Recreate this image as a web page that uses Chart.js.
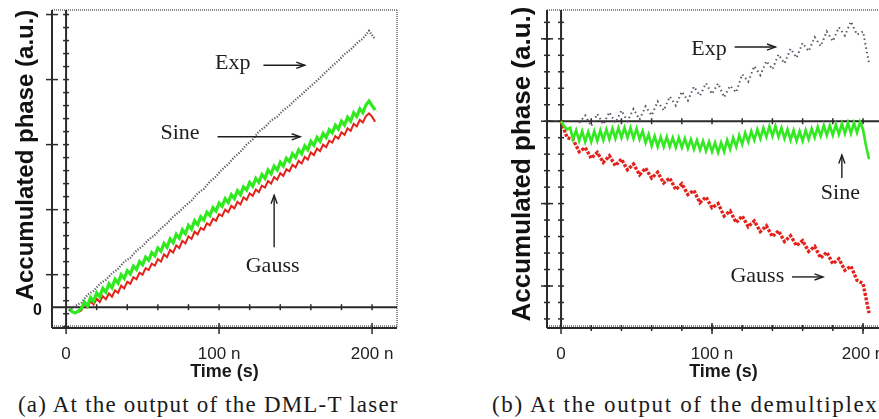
<!DOCTYPE html>
<html>
<head>
<meta charset="utf-8">
<script src="https://cdn.jsdelivr.net/npm/chart.js@4.4.1/dist/chart.umd.min.js"></script>
<style>
  html, body { margin: 0; padding: 0; background: #fff; }
  body { width: 879px; height: 419px; overflow: hidden; position: relative; }
  canvas { position: absolute; top: 0; }
  #chartA { left: 0; }
  #chartB { left: 480px; }
  .caption {
    position: absolute; top: 393px;
    font-family: "Liberation Serif", serif; font-size: 23px; line-height: 23px;
    letter-spacing: 1.2px; color: #1a1a1a; white-space: nowrap;
  }
</style>
</head>
<body>
<canvas id="chartA" width="420" height="392"></canvas>
<canvas id="chartB" width="420" height="392"></canvas>
<div class="caption" style="left:18px">(a) At the output of the DML-T laser</div>
<div class="caption" style="left:492px; letter-spacing:1.65px">(b) At the output of the demultiplex</div>

<script>
// (a) accumulated phase at the laser output, time in ns
var timeA = [2,6,10,14,18,22,26,30,34,38,42,46,50,54,58,62,66,70,74,78,82,86,90,94,98,
             102,106,110,114,118,122,126,130,134,138,142,146,150,154,158,162,166,170,174,178,182,186,190,194,198,202];
var expA = [-0.05,0.02,0.07,0.19,0.25,0.36,0.42,0.52,0.59,0.70,0.76,0.87,0.94,1.04,1.11,1.21,1.29,1.39,1.47,1.56,1.64,1.75,1.82,1.93,2.01,
            2.12,2.20,2.31,2.39,2.50,2.58,2.70,2.77,2.87,2.93,3.03,3.10,3.19,3.27,3.36,3.44,3.53,3.62,3.71,3.79,3.89,3.96,4.06,4.13,4.25,4.12];
// sine and gauss traces every 2 ns, 2..202
var timeA2 = [2,4,6,8,10,12,14,16,18,20,22,24,26,28,30,32,34,36,38,40,42,44,46,48,50,
              52,54,56,58,60,62,64,66,68,70,72,74,76,78,80,82,84,86,88,90,92,94,96,98,100,
              102,104,106,108,110,112,114,116,118,120,122,124,126,128,130,132,134,136,138,140,142,144,146,148,150,
              152,154,156,158,160,162,164,166,168,170,172,174,176,178,180,182,184,186,188,190,192,194,196,198,200,202];
var sineA = [-0.03,-0.07,-0.09,-0.06,-0.02,0.08,0.02,0.15,0.09,0.22,0.16,0.29,0.23,0.36,0.30,0.43,0.37,0.50,0.44,0.56,0.51,0.63,0.58,0.70,0.65,
             0.77,0.72,0.84,0.79,0.91,0.86,0.98,0.92,1.05,0.99,1.12,1.06,1.19,1.13,1.26,1.20,1.33,1.27,1.39,1.34,1.46,1.41,1.53,1.48,1.60,
             1.55,1.67,1.61,1.73,1.67,1.79,1.73,1.85,1.80,1.92,1.86,1.98,1.92,2.04,1.98,2.11,2.05,2.17,2.11,2.23,2.17,2.29,2.24,2.36,2.30,
             2.42,2.36,2.48,2.42,2.55,2.49,2.61,2.55,2.67,2.61,2.73,2.68,2.80,2.74,2.86,2.80,2.92,2.86,2.99,2.93,3.05,2.99,3.11,3.17,3.10,3.03];
var gaussA = [-0.03,-0.07,-0.08,-0.07,-0.05,0.05,0.00,0.09,0.04,0.13,0.08,0.17,0.12,0.21,0.16,0.26,0.22,0.33,0.29,0.39,0.36,0.46,0.43,0.53,0.50,
              0.60,0.57,0.67,0.64,0.74,0.70,0.81,0.77,0.88,0.84,0.95,0.91,1.02,0.98,1.09,1.05,1.16,1.12,1.22,1.19,1.29,1.26,1.36,1.33,1.43,
              1.40,1.50,1.46,1.56,1.52,1.62,1.58,1.69,1.65,1.75,1.71,1.81,1.77,1.87,1.84,1.94,1.90,2.00,1.96,2.06,2.02,2.12,2.09,2.19,2.15,
              2.25,2.21,2.31,2.27,2.38,2.34,2.44,2.40,2.50,2.46,2.56,2.53,2.63,2.59,2.69,2.65,2.75,2.71,2.82,2.78,2.88,2.84,2.94,2.98,2.93,2.85];

// (b) accumulated phase after the demultiplexer
var timeB = [0,4,8,12,16,20,24,28,32,36,40,44,48,52,56,60,64,68,72,76,80,84,88,92,96,100,
             104,108,112,116,120,124,128,132,136,140,144,148,152,156,160,164,168,172,176,180,184,188,192,196,200,204];
var expB = [null,null,null,-0.02,0.07,-0.06,0.09,-0.04,0.11,-0.02,0.13,0.00,0.15,0.02,0.18,0.07,0.24,0.13,0.30,0.19,0.36,0.25,0.42,0.31,0.46,0.33,
            0.46,0.29,0.43,0.35,0.57,0.48,0.67,0.56,0.73,0.63,0.81,0.70,0.88,0.77,0.95,0.85,1.02,0.91,1.09,0.97,1.14,1.04,1.21,1.05,1.09,0.70];
var gaussB = [0.00,-0.20,-0.22,-0.37,-0.32,-0.45,-0.38,-0.50,-0.42,-0.54,-0.46,-0.59,-0.52,-0.65,-0.57,-0.69,-0.62,-0.75,-0.69,-0.83,-0.76,-0.89,-0.84,-0.99,-0.92,-1.05,
              -1.00,-1.15,-1.09,-1.23,-1.15,-1.28,-1.21,-1.34,-1.27,-1.40,-1.33,-1.46,-1.39,-1.51,-1.45,-1.58,-1.52,-1.66,-1.59,-1.73,-1.67,-1.81,-1.76,-1.93,-1.97,-2.33];
// the sine trace is sampled twice as often, 0..204 ns every 2 ns
var timeSineB = [0,2,4,6,8,10,12,14,16,18,20,22,24,26,28,30,32,34,36,38,40,42,44,46,48,50,52,54,56,58,
                 60,62,64,66,68,70,72,74,76,78,80,82,84,86,88,90,92,94,96,98,100,102,104,106,108,110,112,114,116,118,
                 120,122,124,126,128,130,132,134,136,138,140,142,144,146,148,150,152,154,156,158,160,162,164,166,168,170,172,174,176,178,
                 180,182,184,186,188,190,192,194,196,198,200,202,204];
var sineB = [0.00,-0.06,-0.10,-0.08,-0.22,-0.11,-0.24,-0.12,-0.25,-0.13,
             -0.25,-0.12,-0.24,-0.11,-0.23,-0.10,-0.22,-0.09,-0.21,-0.08,
             -0.20,-0.08,-0.20,-0.08,-0.21,-0.09,-0.22,-0.12,-0.26,-0.16,
             -0.30,-0.18,-0.31,-0.19,-0.31,-0.19,-0.31,-0.20,-0.32,-0.20,
             -0.32,-0.21,-0.33,-0.22,-0.34,-0.23,-0.35,-0.24,-0.36,-0.25,
             -0.37,-0.26,-0.38,-0.26,-0.37,-0.23,-0.34,-0.20,-0.31,-0.17,
             -0.28,-0.14,-0.25,-0.12,-0.23,-0.10,-0.21,-0.08,-0.19,-0.06,
             -0.18,-0.06,-0.19,-0.08,-0.21,-0.10,-0.23,-0.11,-0.24,-0.12,
             -0.24,-0.11,-0.22,-0.09,-0.20,-0.07,-0.18,-0.05,-0.17,-0.05,
             -0.17,-0.04,-0.16,-0.03,-0.15,-0.02,-0.15,-0.02,-0.14,-0.01,
             -0.10,-0.30,-0.46];

var xTickValues = [0, 100, 200];
var xTickLabels = ['0', '100 n', '200 n'];
var yMajorA = [0.5, 1.5, 2.5, 3.5, 4.5];
var yMajorB = [1, 0, -1, -2];
var yTitle = 'Accumulated phase (a.u.)';

// curve names and arrows, in data units
var notesA = [
  {text: 'Exp', x: 109, y: 3.75, arrow: [129, 3.72, 156, 3.72]},
  {text: 'Sine', x: 74.5, y: 2.67, arrow: [99, 2.62, 153, 2.62]},
  {text: 'Gauss', x: 135, y: 0.63, arrow: [136, 0.92, 136, 1.72]}
];
var notesB = [
  {text: 'Exp', x: 98, y: 0.88, arrow: [115, 0.9, 142, 0.9]},
  {text: 'Sine', x: 185, y: -0.87, arrow: [186, -0.69, 186, -0.41]},
  {text: 'Gauss', x: 130, y: -1.88, arrow: [153, -1.89, 173.5, -1.89]}
];

function points(t, v) {
  var out = [];
  for (var i in t) {
    if (v[i] !== null) out.push({x: t[i], y: v[i]});
  }
  return out;
}

function seg(ctx, x1, y1, x2, y2) {
  ctx.beginPath();
  ctx.moveTo(x1, y1);
  ctx.lineTo(x2, y2);
  ctx.stroke();
}

// frame, inner axes and all the little tick marks
var axisDecor = {
  id: 'axisDecor',
  beforeDatasetsDraw: function(chart, args, o) {
    var ctx = chart.ctx, a = chart.chartArea;
    var xs = chart.scales.x, ys = chart.scales.y;
    var x0 = xs.getPixelForValue(0), y0 = ys.getPixelForValue(0);
    ctx.save();
    ctx.strokeStyle = '#8c8c8c';
    ctx.lineWidth = 2;
    ctx.setLineDash([1, 1]);
    seg(ctx, a.left, a.top, a.right, a.top);
    if (o.rightEdge) seg(ctx, a.right, a.top, a.right, a.bottom);
    seg(ctx, a.left, a.bottom - 2, a.right, a.bottom - 2);
    ctx.setLineDash([]);

    ctx.strokeStyle = '#2a2a2a';
    ctx.lineWidth = 2;
    seg(ctx, a.left, a.top, a.left, a.bottom);
    seg(ctx, a.left, a.bottom, a.right, a.bottom);
    seg(ctx, x0, a.top, x0, a.bottom);
    seg(ctx, a.left, y0, a.right, y0);

    ctx.lineWidth = 1.5;
    for (var k = 0; ; k++) {
      var v = o.yMinorFrom + k * 0.2;
      if (v > ys.max) break;
      var py = ys.getPixelForValue(v);
      seg(ctx, x0 - 3, py, x0 + 3, py);
      if (o.outerMinor) seg(ctx, a.left - 3, py, a.left + 3, py);
    }
    o.yMajor.forEach(function(v) {
      var py = ys.getPixelForValue(v);
      seg(ctx, a.left - 6, py, a.left + 6, py);
    });
    for (var t = 20; t <= 200; t += 20) {
      var px = xs.getPixelForValue(t);
      seg(ctx, px, y0 - 3, px, y0 + 3);
      if (o.outerMinor) seg(ctx, px, a.bottom - 3, px, a.bottom + 3);
    }
    xTickValues.forEach(function(v) {
      var px = xs.getPixelForValue(v);
      seg(ctx, px, a.bottom - 5, px, a.bottom + 6);
    });
    ctx.restore();
  },
  afterDraw: function(chart, args, o) {
    var ctx = chart.ctx, a = chart.chartArea;
    ctx.save();
    ctx.fillStyle = '#111';
    // the only labelled y value
    if (o.zeroLabel) {
      ctx.font = 'bold 16px "Liberation Sans", Arial, sans-serif';
      ctx.textAlign = 'right';
      ctx.textBaseline = 'middle';
      ctx.fillText('0', a.left - 10, chart.scales.y.getPixelForValue(0) + 3);
    }
    // rotated y title, centred a little above the middle of the plot
    ctx.translate(o.titleX, o.titleY);
    ctx.rotate(-Math.PI / 2);
    ctx.font = 'bold ' + o.titleSize + 'px "Liberation Sans", Arial, sans-serif';
    ctx.textAlign = 'center';
    ctx.textBaseline = 'middle';
    ctx.fillText(yTitle, 0, 0);
    ctx.restore();
  }
};

// serif names next to the curves, with arrows pointing at them
var curveNotes = {
  id: 'curveNotes',
  afterDatasetsDraw: function(chart, args, o) {
    var ctx = chart.ctx, xs = chart.scales.x, ys = chart.scales.y;
    ctx.save();
    ctx.fillStyle = '#1e1e1e';
    ctx.strokeStyle = '#1e1e1e';
    ctx.lineWidth = 1.4;
    ctx.font = '22px "Liberation Serif", serif';
    ctx.textAlign = 'center';
    ctx.textBaseline = 'middle';
    o.notes.forEach(function(n) {
      ctx.fillText(n.text, xs.getPixelForValue(n.x), ys.getPixelForValue(n.y));
      var x1 = xs.getPixelForValue(n.arrow[0]), y1 = ys.getPixelForValue(n.arrow[1]);
      var x2 = xs.getPixelForValue(n.arrow[2]), y2 = ys.getPixelForValue(n.arrow[3]);
      seg(ctx, x1, y1, x2, y2);
      var ang = Math.atan2(y2 - y1, x2 - x1);
      ctx.beginPath();
      ctx.moveTo(x2 - 9 * Math.cos(ang - 0.35), y2 - 9 * Math.sin(ang - 0.35));
      ctx.lineTo(x2, y2);
      ctx.lineTo(x2 - 9 * Math.cos(ang + 0.35), y2 - 9 * Math.sin(ang + 0.35));
      ctx.stroke();
    });
    ctx.restore();
  }
};

function makeChart(id, sets, cfg) {
  return new Chart(document.getElementById(id), {
    type: 'line',
    data: {
      datasets: [
        {label: 'Exp', data: points(sets.expTime, sets.exp), borderColor: '#5e5866', borderWidth: cfg.expWidth, borderDash: cfg.expDash},
        {label: 'Sine', data: points(sets.sineTime, sets.sine), borderColor: '#30ea1f', borderWidth: cfg.sineWidth},
        {label: 'Gauss', data: points(sets.gaussTime, sets.gauss), borderColor: '#e3231b', borderWidth: cfg.gaussWidth, borderDash: cfg.gaussDash}
      ]
    },
    options: {
      responsive: false,
      animation: false,
      parsing: false,
      layout: {padding: {left: 0, top: 10, right: cfg.padRight, bottom: 0}},
      elements: {point: {radius: 0}, line: {tension: 0}},
      plugins: {
        legend: {display: false},
        tooltip: {enabled: false},
        axisDecor: {rightEdge: cfg.rightEdge, outerMinor: cfg.outerMinor, yMinorFrom: cfg.yMinorFrom, yMajor: cfg.yMajor,
                    zeroLabel: cfg.zeroLabel, titleX: cfg.titleX, titleY: cfg.titleY, titleSize: cfg.titleSize},
        curveNotes: {notes: cfg.notes}
      },
      scales: {
        x: {
          type: 'linear', min: cfg.xMin, max: cfg.xMax,
          afterFit: function(s) { s.height = 64; },
          afterBuildTicks: function(s) { s.ticks = xTickValues.map(function(v) { return {value: v}; }); },
          grid: {display: false}, border: {display: false},
          ticks: {padding: 8, maxRotation: 0, autoSkip: false, color: '#222',
                  font: {family: '"Liberation Sans", Arial, sans-serif', size: 17},
                  callback: function(val, i) { return xTickLabels[i]; }},
          title: {display: true, text: 'Time (s)', color: '#1a1a1a', padding: {top: 0, bottom: 9},
                  font: {family: '"Liberation Sans", Arial, sans-serif', size: 18, weight: 'bold', lineHeight: 1.2}}
        },
        y: {
          type: 'linear', min: cfg.yMin, max: cfg.yMax,
          afterFit: function(s) { s.width = cfg.yWidth; },
          grid: {display: false}, border: {display: false},
          ticks: {display: false}
        }
      }
    },
    plugins: [axisDecor, curveNotes]
  });
}

makeChart('chartA', {expTime: timeA, exp: expA, sineTime: timeA2, sine: sineA, gaussTime: timeA2, gauss: gaussA}, {
  xMin: -9.2, xMax: 216.3, yMin: -0.32, yMax: 4.57, yWidth: 52, padRight: 23,
  rightEdge: true, outerMinor: false, yMinorFrom: -0.3, yMajor: yMajorA, zeroLabel: true,
  titleX: 26, titleY: 155, titleSize: 24,
  expWidth: 2.2, expDash: [1.2, 1.6], sineWidth: 3.2, gaussWidth: 2, gaussDash: [],
  notes: notesA
});

makeChart('chartB', {expTime: timeB, exp: expB, sineTime: timeSineB, sine: sineB, gaussTime: timeB, gauss: gaussB}, {
  xMin: -9.3, xMax: 224.5, yMin: -2.51, yMax: 1.35, yWidth: 67, padRight: 0,
  rightEdge: false, outerMinor: true, yMinorFrom: -2.4, yMajor: yMajorB, zeroLabel: false,
  titleX: 43, titleY: 164, titleSize: 26,
  expWidth: 2, expDash: [1.5, 3], sineWidth: 2.6, gaussWidth: 3.4, gaussDash: [3, 1.5],
  notes: notesB
});
</script>
</body>
</html>
